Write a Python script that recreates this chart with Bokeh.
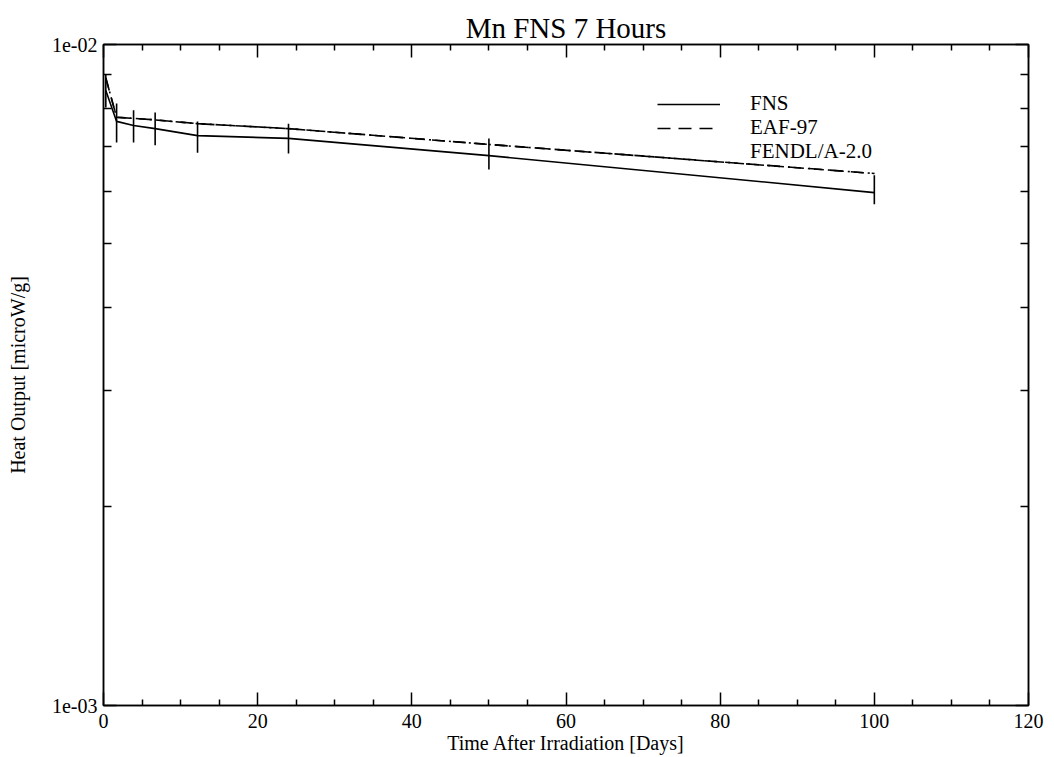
from bokeh.plotting import figure
from bokeh.models import (FixedTicker, LinearAxis, LogAxis, CustomJSTickFormatter,
                          Legend, LegendItem, ColumnDataSource)
from bokeh.embed import file_html
from bokeh.resources import INLINE

# ---- data ----
time_days = [0.3, 1.7, 3.9, 6.7, 12.2, 24.0, 50.0, 100.0]
fns_heat = [8.52e-3, 7.65e-3, 7.54e-3, 7.46e-3, 7.28e-3, 7.21e-3, 6.79e-3, 5.97e-3]
fns_upper = [9.01e-3, 8.14e-3, 7.95e-3, 7.89e-3, 7.65e-3, 7.59e-3, 7.21e-3, 6.34e-3]
fns_lower = [8.03e-3, 7.11e-3, 7.11e-3, 7.04e-3, 6.86e-3, 6.84e-3, 6.47e-3, 5.73e-3]
eaf97_heat = [8.90e-3, 7.76e-3, 7.73e-3, 7.69e-3, 7.59e-3, 7.46e-3, 7.06e-3, 6.38e-3]
fendl_heat = [8.90e-3, 7.76e-3, 7.73e-3, 7.69e-3, 7.59e-3, 7.46e-3, 7.06e-3, 6.38e-3]

x_major = [0, 20, 40, 60, 80, 100, 120]
x_minor = [5, 10, 15, 25, 30, 35, 45, 50, 55, 65, 70, 75, 85, 90, 95, 105, 110, 115]
y_major = [1e-3, 1e-2]
y_minor = [2e-3, 3e-3, 4e-3, 5e-3, 6e-3, 7e-3, 8e-3, 9e-3]

FONT = "Liberation Serif"

p = figure(width=1054, height=757, x_range=(0, 120), y_range=(1e-3, 1e-2),
           y_axis_type="log", output_backend="svg", toolbar_location=None,
           min_border_left=103, min_border_right=26, min_border_top=44,
           min_border_bottom=52)

p.title.text = "Mn FNS 7 Hours"
p.title.text_font = FONT
p.title.text_font_size = "29px"
p.title.text_font_style = "normal"
p.title.text_color = "black"
p.title.align = "center"
p.title.offset = 0
p.title.standoff = 2

p.xgrid.visible = False
p.ygrid.visible = False
p.outline_line_color = "black"
p.outline_line_width = 1.5
p.background_fill_color = "white"
p.border_fill_color = "white"

xt = FixedTicker(ticks=x_major, minor_ticks=x_minor)
yt = FixedTicker(ticks=y_major, minor_ticks=y_minor)
yfmt = CustomJSTickFormatter(code="""
const s = tick.toExponential(0);
return s.replace(/e([+-])(\\d)$/, 'e$10$2');
""")
blank = CustomJSTickFormatter(code="return '';")


def style(ax):
    ax.axis_line_color = "black"
    ax.axis_line_width = 1.5
    ax.major_tick_line_color = "black"
    ax.minor_tick_line_color = "black"
    ax.major_tick_line_width = 1.5
    ax.minor_tick_line_width = 1.5
    ax.major_tick_out = 0
    ax.minor_tick_out = 0
    ax.major_label_text_font = FONT
    ax.major_label_text_font_size = "20px"
    ax.major_label_text_color = "black"
    ax.axis_label_text_font = FONT
    ax.axis_label_text_font_style = "normal"
    ax.axis_label_text_color = "black"


xa = p.xaxis[0]
xa.ticker = xt
style(xa)
xa.major_tick_in = 13
xa.minor_tick_in = 6
xa.major_label_standoff = 8
xa.axis_label = "Time After Irradiation [Days]"
xa.axis_label_text_font_size = "20px"
xa.axis_label_standoff = 1

ya = p.yaxis[0]
ya.ticker = yt
ya.formatter = yfmt
style(ya)
ya.major_tick_in = 13
ya.minor_tick_in = 8
ya.major_label_standoff = 6
ya.axis_label = "Heat Output [microW/g]"
ya.axis_label_text_font_size = "20px"
ya.axis_label_standoff = 20

top = LinearAxis(ticker=xt, formatter=blank)
style(top)
top.major_tick_in = 13
top.minor_tick_in = 6
top.major_label_standoff = 0
p.add_layout(top, "above")

right = LogAxis(ticker=yt, formatter=blank)
style(right)
right.major_tick_in = 13
right.minor_tick_in = 8
right.major_label_standoff = 0
p.add_layout(right, "right")

src = ColumnDataSource(dict(t=time_days, fns=fns_heat, hi=fns_upper, lo=fns_lower,
                            eaf=eaf97_heat, fendl=fendl_heat))

r_eaf = p.line("t", "eaf", source=src, line_color="black", line_width=1.6,
               line_dash="13 8")
r_fendl = p.line("t", "fendl", source=src, line_color="black", line_width=1.6,
                 line_dash="10 4 2 4")
r_fns = p.line("t", "fns", source=src, line_color="black", line_width=1.6)
p.segment(x0="t", y0="lo", x1="t", y1="hi", source=src, line_color="black",
          line_width=1.6)

# faint legend sample for FENDL (barely visible in the reference)
r_fendl_leg = p.line(x=[], y=[], line_color="black", line_alpha=0.12,
                     line_width=1.6, line_dash="10 4 2 4")

legend_entries = [("FNS", r_fns, 589), ("EAF-97", r_eaf, 565),
                  ("FENDL/A-2.0", r_fendl_leg, 541)]
for label, rend, ypos in legend_entries:
    lg = Legend(items=[LegendItem(label=label, renderers=[rend])],
                location=(554, ypos))
    lg.glyph_width = 63
    lg.glyph_height = 22
    lg.label_height = 22
    lg.label_standoff = 30
    lg.spacing = 0
    lg.padding = 0
    lg.margin = 0
    lg.border_line_alpha = 0
    lg.background_fill_alpha = 0
    lg.label_text_font = FONT
    lg.label_text_font_size = "21px"
    lg.label_text_color = "black"
    p.add_layout(lg, "center")

open("out.html", "w").write(file_html(p, INLINE))
